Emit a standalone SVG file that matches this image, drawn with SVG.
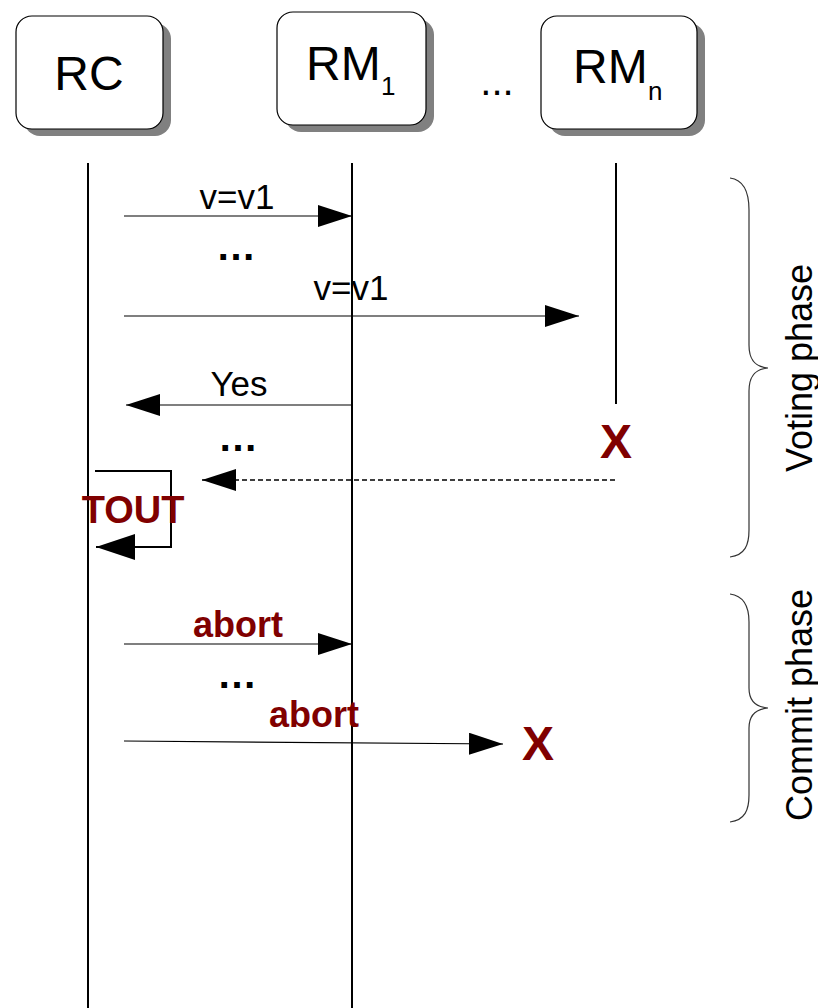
<svg xmlns="http://www.w3.org/2000/svg" width="818" height="1008" viewBox="0 0 818 1008">
  <style>
    .box { fill: #ffffff; stroke: #000000; stroke-width: 1.2; }
    .shadow { fill: #808080; }
    .life { stroke: #000000; stroke-width: 2; fill: none; }
    .msg { stroke: #000000; stroke-width: 1.2; fill: none; }
    .dash { stroke: #000000; stroke-width: 1.3; stroke-dasharray: 5 3; fill: none; }
    .loop { stroke: #000000; stroke-width: 2; fill: none; }
    .brace { stroke: #333333; stroke-width: 1.2; fill: none; }
    .name { font-family: "Liberation Sans", Arial, sans-serif; font-size: 48px; fill: #000000; }
    .sub { font-family: "Liberation Sans", Arial, sans-serif; font-size: 26px; fill: #000000; }
    .lbl { font-family: "Liberation Sans", Arial, sans-serif; font-size: 35px; fill: #000000; text-anchor: middle; }
    .dots { font-family: "Liberation Sans", Arial, sans-serif; font-size: 40px; font-weight: bold; fill: #000000; text-anchor: middle; }
    .red { font-family: "Liberation Sans", Arial, sans-serif; font-weight: bold; font-size: 36px; fill: #800000; text-anchor: middle; }
    .cross { font-family: "Liberation Sans", Arial, sans-serif; font-weight: bold; font-size: 48px; fill: #800000; text-anchor: middle; }
    .phase { font-family: "Liberation Sans", Arial, sans-serif; font-size: 36px; fill: #000000; text-anchor: middle; }
  </style>
  <defs>
    <marker id="head" markerUnits="userSpaceOnUse" markerWidth="34" markerHeight="22" refX="34" refY="11" orient="auto">
      <path d="M0,0 L34,11 L0,22 Z" fill="#000000"/>
    </marker>
    <marker id="headBig" markerUnits="userSpaceOnUse" markerWidth="39" markerHeight="26" refX="39" refY="13" orient="auto">
      <path d="M0,0 L39,13 L0,26 Z" fill="#000000"/>
    </marker>
  </defs>
  <rect width="818" height="1008" fill="#ffffff"/>

  <!-- participants -->
  <g id="rc">
    <rect class="shadow" x="24" y="23" width="147" height="113" rx="16"/>
    <rect class="box" x="16" y="16" width="147" height="113" rx="16"/>
    <text class="name" x="89" y="90" text-anchor="middle">RC</text>
  </g>
  <g id="rm1">
    <rect class="shadow" x="285" y="19" width="149" height="113" rx="16"/>
    <rect class="box" x="277" y="12" width="149" height="113" rx="16"/>
    <text class="name" x="306" y="80">RM</text>
    <text class="sub" x="381" y="95">1</text>
  </g>
  <g id="ellipsis-nodes">
    <text class="lbl" x="497" y="95" style="font-size:40px">...</text>
  </g>
  <g id="rmn">
    <rect class="shadow" x="549" y="23" width="156" height="113" rx="16"/>
    <rect class="box" x="541" y="16" width="156" height="113" rx="16"/>
    <text class="name" x="573" y="83">RM</text>
    <text class="sub" x="648" y="100">n</text>
  </g>

  <!-- lifelines -->
  <g id="lifelines">
    <line class="life" x1="88" y1="163" x2="88" y2="1008"/>
    <line class="life" x1="352" y1="163" x2="352" y2="1008"/>
    <line class="life" x1="616" y1="163" x2="616" y2="404"/>
  </g>

  <!-- messages -->
  <g id="connectors">
    <line class="msg" x1="124" y1="216" x2="352" y2="216" marker-end="url(#head)"/>
    <line class="msg" x1="124" y1="316" x2="579" y2="316" marker-end="url(#head)"/>
    <line class="msg" x1="352" y1="405" x2="126" y2="405" marker-end="url(#head)"/>
    <line class="dash" x1="615" y1="480" x2="202" y2="480" marker-end="url(#head)"/>
    <path class="loop" d="M95,471 H171 V547 H96" marker-end="url(#headBig)"/>
    <line class="msg" x1="124" y1="644" x2="352" y2="644" marker-end="url(#head)"/>
    <line class="msg" x1="124" y1="741" x2="503" y2="744" marker-end="url(#head)"/>
  </g>

  <!-- labels -->
  <g id="labels">
    <text class="lbl" x="237" y="209">v=v1</text>
    <text class="dots" x="236" y="260">…</text>
    <text class="lbl" x="351" y="300">v=v1</text>
    <text class="lbl" x="239" y="396">Yes</text>
    <text class="dots" x="238" y="451">…</text>
    <text class="red" x="133" y="523" style="font-size:38px">TOUT</text>
    <text class="red" x="238" y="637">abort</text>
    <text class="dots" x="237" y="688">…</text>
    <text class="red" x="314" y="727">abort</text>
    <text class="cross" x="616" y="458">X</text>
    <text class="cross" x="538" y="760">X</text>
  </g>

  <!-- phase braces -->
  <g id="voting-phase">
    <path class="brace" d="M730,178 C745,180 749,195 749,210 L749,345 C749,360 755,367 768,368 C755,369 749,376 749,391 L749,530 C749,545 745,555 730,557"/>
    <text class="phase" transform="translate(812,368) rotate(-90)">Voting phase</text>
  </g>
  <g id="commit-phase">
    <path class="brace" d="M730,594 C745,596 749,608 749,622 L749,688 C749,700 755,707 768,708 C755,709 749,716 749,728 L749,795 C749,810 745,820 730,822"/>
    <text class="phase" transform="translate(812,705) rotate(-90)">Commit phase</text>
  </g>
</svg>
